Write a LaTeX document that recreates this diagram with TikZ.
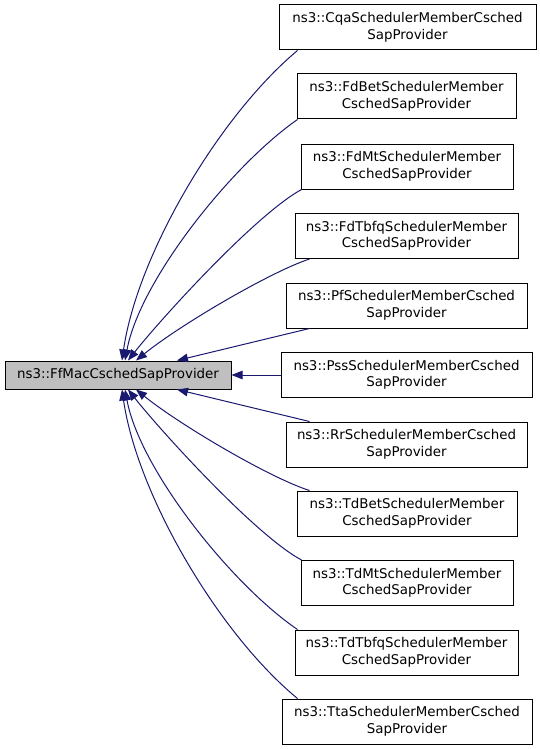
\documentclass[tikz,border=0pt]{standalone}
\usepackage{fontspec}
\setmainfont{DejaVu Sans}
\usetikzlibrary{arrows.meta,calc}
\definecolor{edgeblue}{RGB}{25,25,112}
\definecolor{mainfill}{RGB}{191,191,191}
\tikzset{
  cls/.style={draw=black, line width=1pt, fill=white, inner sep=0pt, align=center,
    minimum height=45pt, font=\fontsize{13.4}{16.5}\selectfont},
  mainbox/.style={cls, fill=mainfill, minimum height=28pt},
  edge/.style={draw=edgeblue, line width=1pt, -{Triangle[length=11pt,width=8.5pt]}, edgeblue}
}
\begin{document}
\begin{tikzpicture}[x=1pt,y=-1pt]
\useasboundingbox (0,0) rectangle (539,749);
\node[mainbox, minimum width=226pt] (main) at (118,375) {ns3::FfMacCschedSapProvider};
\node[cls, minimum width=257pt] (cqa) at (407.5,27.5) {ns3::CqaSchedulerMemberCsched\\SapProvider};
\node[cls, minimum width=219pt] (fdbet) at (406.5,96.5) {ns3::FdBetSchedulerMember\\CschedSapProvider};
\node[cls, minimum width=212pt] (fdmt) at (407,166.5) {ns3::FdMtSchedulerMember\\CschedSapProvider};
\node[cls, minimum width=223pt] (fdtbfq) at (406.5,236) {ns3::FdTbfqSchedulerMember\\CschedSapProvider};
\node[cls, minimum width=241pt] (pf) at (406.5,305.5) {ns3::PfSchedulerMemberCsched\\SapProvider};
\node[cls, minimum width=251pt] (pss) at (406.5,375) {ns3::PssSchedulerMemberCsched\\SapProvider};
\node[cls, minimum width=241pt] (rr) at (406.5,444.5) {ns3::RrSchedulerMemberCsched\\SapProvider};
\node[cls, minimum width=220pt] (tdbet) at (407,513.5) {ns3::TdBetSchedulerMember\\CschedSapProvider};
\node[cls, minimum width=212pt] (tdmt) at (407,583) {ns3::TdMtSchedulerMember\\CschedSapProvider};
\node[cls, minimum width=223pt] (tdtbfq) at (406.5,652.5) {ns3::TdTbfqSchedulerMember\\CschedSapProvider};
\node[cls, minimum width=250pt] (tta) at (407,721.5) {ns3::TtaSchedulerMemberCsched\\SapProvider};
% upper edges
\draw[edge] ($(cqa.south west)+(19,0)$) .. controls (218,117) and (137,256) .. ($(main.north)+(4,0)$);
\draw[edge] ($(fdbet.south west)+(1,0)$) .. controls (232,165) and (140,280) .. ($(main.north)+(7,0)$);
\draw[edge] ($(fdmt.south west)+(1,0)$) .. controls (255,215) and (160,320) .. ($(main.north)+(10,0)$);
\draw[edge] ($(fdtbfq.south west)+(15,0)$) .. controls (270,272) and (180,325) .. ($(main.north)+(18,0)$);
\draw[edge] ($(pf.south west)+(24,0)$) -- ($(main.north)+(59,0)$);
\draw[edge] (pss.west) -- (main.east);
% lower edges (mirrored)
\draw[edge] ($(rr.north west)+(24,0)$) -- ($(main.south)+(59,0)$);
\draw[edge] ($(tdbet.north west)+(13,0)$) .. controls (270,478) and (180,425) .. ($(main.south)+(18,0)$);
\draw[edge] ($(tdmt.north west)+(1,0)$) .. controls (255,535) and (160,430) .. ($(main.south)+(10,0)$);
\draw[edge] ($(tdtbfq.north west)+(3,0)$) .. controls (232,585) and (140,470) .. ($(main.south)+(7,0)$);
\draw[edge] ($(tta.north west)+(16,0)$) .. controls (218,633) and (137,494) .. ($(main.south)+(4,0)$);
\end{tikzpicture}
\end{document}
